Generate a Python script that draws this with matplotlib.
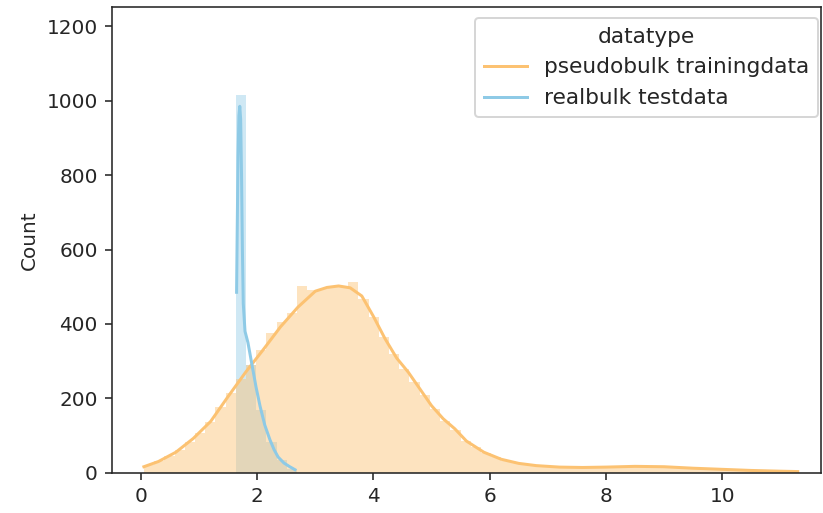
import matplotlib
matplotlib.use("Agg")
import matplotlib.pyplot as plt
import numpy as np
from matplotlib.lines import Line2D

# ---- data ----
bin_start = 0.05
bin_width = 0.17578
pseudobulk_counts = [20, 31, 44, 60, 82, 108, 137, 176, 214, 252,
                     290, 330, 375, 405, 430, 502, 492, 495, 498, 500,
                     512, 467, 418, 366, 319, 280, 245, 210, 172, 140,
                     116, 86, 68, 52, 41, 32, 26, 22, 19, 17,
                     15, 15, 14, 14, 15, 15, 16, 17, 17, 16,
                     16, 15, 14, 12, 11, 10, 9, 8, 7, 6,
                     5, 4, 4, 3]
realbulk_first_bin = 9
realbulk_counts = [1015, 290, 168, 82, 33, 11]

pseudobulk_kde_x = [0.05, 0.3, 0.6, 0.9, 1.2, 1.5, 1.8, 2.1, 2.4, 2.7, 3.0, 3.2, 3.4,
                    3.6, 3.8, 4.0, 4.2, 4.4, 4.6, 4.8, 5.0, 5.2, 5.4, 5.6, 5.9, 6.2,
                    6.5, 6.8, 7.2, 7.6, 8.0, 8.5, 9.0, 9.5, 10.0, 10.5, 11.0, 11.3]
pseudobulk_kde_y = [16, 30, 55, 92, 138, 205, 270, 330, 392, 445, 488, 498, 502,
                    497, 475, 420, 360, 308, 270, 225, 180, 145, 118, 85, 55, 36,
                    25, 19, 15, 14, 15, 17, 16, 12, 9, 6, 4, 3]
realbulk_kde_x = [1.645, 1.655, 1.67, 1.685, 1.70, 1.715, 1.73, 1.745, 1.76, 1.79,
                  1.84, 1.91, 1.98, 2.05, 2.13, 2.22, 2.29, 2.36, 2.46, 2.56, 2.65]
realbulk_kde_y = [485, 640, 850, 960, 985, 950, 800, 600, 455, 380,
                  350, 290, 230, 178, 128, 88, 62, 42, 26, 16, 8]

labels = ["pseudobulk trainingdata", "realbulk testdata"]
colors = ["#FCC272", "#8ECAE6"]
legend_title = "datatype"
y_label = "Count"

# ---- figure ----
text_color = "#262626"
plt.rcParams["text.color"] = text_color
plt.rcParams["axes.labelcolor"] = text_color
plt.rcParams["xtick.color"] = text_color
plt.rcParams["ytick.color"] = text_color
plt.rcParams["axes.edgecolor"] = text_color

fig = plt.figure(figsize=(823 / 144, 513 / 144), dpi=144)
ax = fig.add_axes([0.136, 0.0786, 0.8615, 0.907])

n_p = len(pseudobulk_counts)
edges_p = bin_start + bin_width * np.arange(n_p)
edges_r = bin_start + bin_width * (realbulk_first_bin + np.arange(len(realbulk_counts)))

ax.bar(edges_r, realbulk_counts, width=bin_width, align="edge",
       color=colors[1], alpha=0.42, linewidth=0)
ax.bar(edges_p, pseudobulk_counts, width=bin_width, align="edge",
       color=colors[0], alpha=0.45, linewidth=0)

ax.plot(pseudobulk_kde_x, pseudobulk_kde_y, color=colors[0], lw=1.5)
ax.plot(realbulk_kde_x, realbulk_kde_y, color=colors[1], lw=1.5)

ax.set_xlim(-0.5, 11.7)
ax.set_ylim(0, 1251)
ax.set_xticks([0, 2, 4, 6, 8, 10])
ax.set_yticks([0, 200, 400, 600, 800, 1000, 1200])
ax.set_ylabel(y_label)

handles = [Line2D([0], [0], color=c, lw=1.5) for c in colors]
ax.legend(handles, labels, title=legend_title, loc="upper right",
          fontsize=10.8, title_fontsize=10.8, borderaxespad=0,
          bbox_to_anchor=(818 / 823, 495 / 513), bbox_transform=fig.transFigure)

fig.savefig("out.png", dpi=144)
